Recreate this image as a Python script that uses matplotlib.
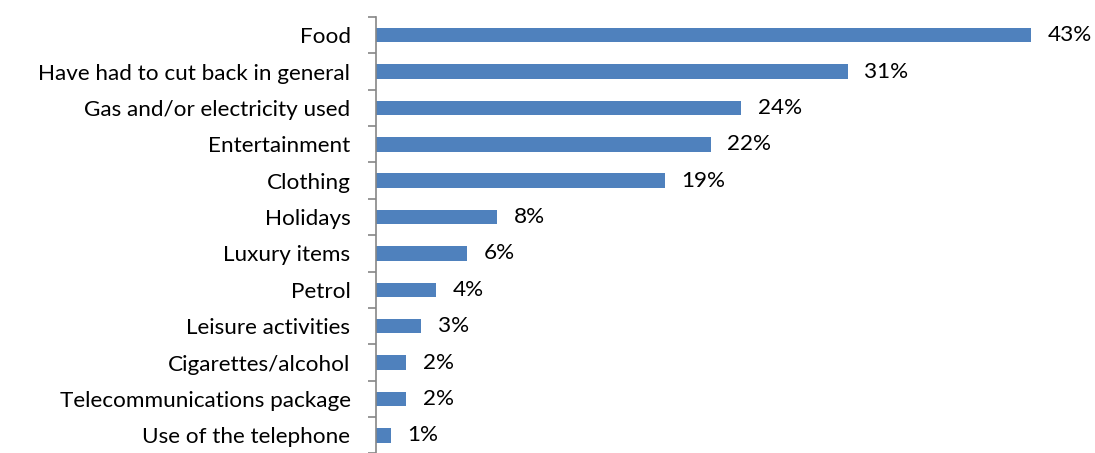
import matplotlib
matplotlib.use("Agg")
import matplotlib.pyplot as plt
from matplotlib.ticker import FixedLocator

# Share of respondents cutting back on each item (%)
categories = [
    "Food",
    "Have had to cut back in general",
    "Gas and/or electricity used",
    "Entertainment",
    "Clothing",
    "Holidays",
    "Luxury items",
    "Petrol",
    "Leisure activities",
    "Cigarettes/alcohol",
    "Telecommunications package",
    "Use of the telephone",
]
values = [43, 31, 24, 22, 19, 8, 6, 4, 3, 2, 2, 1]

plt.rcParams["font.family"] = ["Lato", "DejaVu Sans"]

W, H, DPI = 1095, 453, 100
fig = plt.figure(figsize=(W / DPI, H / DPI), dpi=DPI)
ax = fig.add_axes([375.5 / W, -0.001, 716 / W, 1 - 17 / H + 0.001])

n = len(categories)
ypos = list(range(n))
ax.barh(ypos, values, height=0.4, color="#4F81BD")
ax.set_ylim(n - 0.5, -0.5)
ax.set_xlim(0, 47)

for y, v in zip(ypos, values):
    ax.annotate(f"{v}%", xy=(v, y), xytext=(12, 0), textcoords="offset points",
                va="center", ha="left", fontsize=16.2, color="black")

ax.set_yticks(ypos)
ax.set_yticklabels(categories, fontsize=16.2)
ax.tick_params(axis="y", which="major", length=0, pad=18)
ax.yaxis.set_minor_locator(FixedLocator([i - 0.5 for i in range(n + 1)]))
ax.tick_params(axis="y", which="minor", length=6, width=1.2, color="#868686", direction="out")

ax.set_xticks([])
for s in ["top", "right", "bottom"]:
    ax.spines[s].set_visible(False)
ax.spines["left"].set_color("#868686")
ax.spines["left"].set_linewidth(1.2)

fig.savefig("out.png", dpi=DPI)
